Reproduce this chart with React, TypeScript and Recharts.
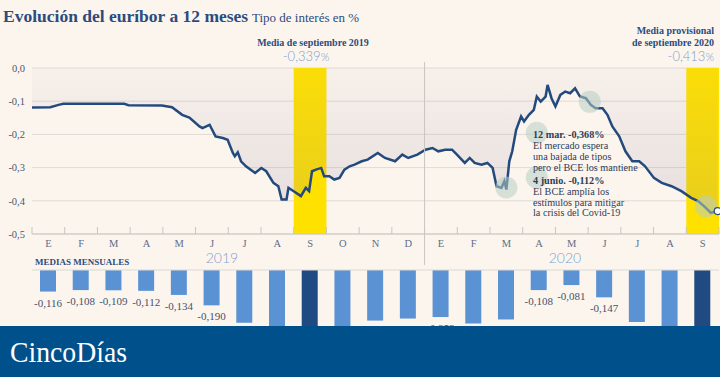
import React from 'react';
import {
  ComposedChart,
  Area,
  Bar,
  Cell,
  LabelList,
  XAxis,
  YAxis,
  CartesianGrid,
  ReferenceArea,
  ReferenceLine,
  ReferenceDot,
} from 'recharts';

// ---------- data ----------
const monthLetters = ['E', 'F', 'M', 'A', 'M', 'J', 'J', 'A', 'S', 'O', 'N', 'D', 'E', 'F', 'M', 'A', 'M', 'J', 'J', 'A', 'S'];
const monthlyAverages = [
  -0.116, -0.108, -0.109, -0.112, -0.134, -0.19, -0.283, -0.356, -0.339, -0.304, -0.272, -0.261,
  -0.253, -0.288, -0.266, -0.108, -0.081, -0.147, -0.279, -0.359, -0.413,
];
const highlightedMonths = [8, 20];
const yTicks = [0, -0.1, -0.2, -0.3, -0.4, -0.5];

// position in months since 1 Jan 2019, and the 12-month Euribor (%)
const dailyPos = [
  0.0, 0.56, 0.81, 0.96, 1.8, 2.82, 2.95, 3.97, 4.28, 4.59, 4.81, 5.12, 5.21, 5.43, 5.61, 5.83, 5.98,
  6.14, 6.2, 6.29, 6.39, 6.54, 6.82, 7.01, 7.16, 7.38, 7.53, 7.63, 7.78, 7.84, 8.0, 8.22, 8.37, 8.47,
  8.56, 8.68, 8.84, 8.93, 9.09, 9.24, 9.4, 9.55, 9.71, 9.86, 10.08, 10.26, 10.57, 10.79, 11.1, 11.32,
  11.5, 11.78, 12.03, 12.24, 12.42, 12.63, 12.84, 12.99, 13.23, 13.38, 13.53, 13.74, 13.92, 14.08,
  14.2, 14.35, 14.44, 14.5, 14.59, 14.68, 14.8, 14.95, 15.04, 15.19, 15.34, 15.43, 15.55, 15.7, 15.76,
  15.88, 16.0, 16.15, 16.3, 16.45, 16.6, 16.75, 16.93, 17.08, 17.23, 17.44, 17.59, 17.74, 17.95, 18.14,
  18.35, 18.56, 18.74, 19.01, 19.25, 19.55, 19.85, 20.15, 20.36, 20.54, 20.75, 20.96,
];
const dailyVal = [
  -0.119, -0.118, -0.111, -0.108, -0.108, -0.108, -0.112, -0.113, -0.118, -0.141, -0.149, -0.176, -0.181,
  -0.171, -0.206, -0.211, -0.216, -0.256, -0.266, -0.254, -0.281, -0.296, -0.316, -0.301, -0.311, -0.346,
  -0.356, -0.396, -0.396, -0.361, -0.371, -0.386, -0.361, -0.371, -0.311, -0.306, -0.301, -0.326, -0.326,
  -0.336, -0.331, -0.306, -0.296, -0.291, -0.281, -0.276, -0.256, -0.271, -0.281, -0.261, -0.271, -0.261,
  -0.246, -0.241, -0.251, -0.246, -0.246, -0.261, -0.286, -0.271, -0.286, -0.291, -0.286, -0.301, -0.356,
  -0.361, -0.341, -0.366, -0.281, -0.251, -0.186, -0.146, -0.161, -0.141, -0.126, -0.086, -0.101, -0.086,
  -0.051, -0.091, -0.116, -0.081, -0.071, -0.076, -0.061, -0.086, -0.091, -0.111, -0.121, -0.121, -0.141,
  -0.176, -0.206, -0.251, -0.281, -0.281, -0.296, -0.331, -0.346, -0.356, -0.371, -0.391, -0.401, -0.416,
  -0.436, -0.431,
];

const markerPos = [14.5, 15.43, 17.05, 15.43, 20.6];
const markerVal = [-0.36, -0.195, -0.102, -0.33, -0.417];

const lineData = dailyPos.map((m, i) => ({ m, v: dailyVal[i] }));
const barData = monthlyAverages.map((v, i) => ({ m: i + 0.5, v }));
const monthCenters = monthLetters.map((_, i) => i + 0.5);
const monthBounds = Array.from({ length: 22 }, (_, i) => i);

// ---------- style ----------
const SERIF = '"Liberation Serif", "Times New Roman", serif';
const SANS = 'Lato, "Open Sans", sans-serif';
const BG = '#fcf5ee';
const NAVY = '#2b4c7e';
const LINE = '#234a7d';
const YELLOW = '#ffe100';
const BAR = '#5b92d3';
const BAR_DARK = '#1f4a82';
const LIGHT_BLUE = '#7d9fcf';
const TEXT = '#2e3c58';

const fmt = (v: number) => v.toFixed(3).replace('.', ',');

const BarLabel = (props: any) => {
  const { x, y, width, height, value } = props;
  const bottom = Math.max(y, y + height);
  return (
    <text
      x={x + width / 2}
      y={bottom + 11}
      textAnchor="middle"
      dominantBaseline="central"
      fontFamily={SERIF}
      fontSize={11}
      fill="#44536e"
    >
      {fmt(value)}
    </text>
  );
};

export default function App() {
  const annotation = [
    { t: '12 mar. -0,368%', b: true },
    { t: 'El mercado espera', b: false },
    { t: 'una bajada de tipos', b: false },
    { t: 'pero el BCE los mantiene', b: false },
    { t: '4 junio. -0,112%', b: true },
    { t: 'El BCE amplía los', b: false },
    { t: 'estímulos para mitigar', b: false },
    { t: 'la crisis del Covid-19', b: false },
  ];
  const annY = [137.5, 148.5, 159.5, 170.5, 183.5, 194.5, 205.5, 215.5];

  return (
    <div
      style={{
        position: 'absolute',
        left: 0,
        top: 0,
        width: 720,
        height: 377,
        overflow: 'hidden',
        background: BG,
      }}
    >
      <div style={{ position: 'absolute', left: 0, top: 0 }}>
        <ComposedChart width={720} height={270} data={lineData} margin={{ top: 68, right: 1, left: 0, bottom: 22 }}>
          <defs>
            <linearGradient id="areaFill" x1="0" y1="0" x2="0" y2="1">
              <stop offset="0" stopColor="#8a7f99" stopOpacity={0.07} />
              <stop offset="1" stopColor="#8a7f99" stopOpacity={0.32} />
            </linearGradient>
          </defs>
          <CartesianGrid horizontal vertical={false} stroke="#e0dbd6" />
          <XAxis
            dataKey="m"
            type="number"
            domain={[0, 21]}
            ticks={monthCenters}
            interval={0}
            height={14}
            allowDataOverflow
            tickFormatter={(v: number) => monthLetters[Math.floor(v)]}
            axisLine={{ stroke: '#cbc6c1' }}
            tickLine={false}
            tickSize={0}
            tickMargin={6}
            tick={{ fontSize: 10.5, fill: '#5f6d88', fontFamily: SERIF }}
          />
          <YAxis
            type="number"
            domain={[-0.5, 0]}
            ticks={yTicks}
            interval={0}
            width={32}
            axisLine={false}
            tickLine={false}
            tickSize={0}
            tickMargin={7}
            tickFormatter={(v: number) => v.toFixed(1).replace('.', ',')}
            tick={{ fontSize: 10.5, fill: '#4a5670', fontFamily: SERIF }}
          />
          {highlightedMonths.map((i) => (
            <ReferenceArea
              key={'hl' + i}
              x1={i}
              x2={i + 1}
              y1={-0.5}
              y2={0}
              fill={YELLOW}
              fillOpacity={1}
              stroke="none"
              ifOverflow="hidden"
              zIndex={-50}
            />
          ))}
          <Area
            dataKey="v"
            type="linear"
            baseValue={0}
            fill="url(#areaFill)"
            stroke={LINE}
            strokeWidth={2.5}
            dot={false}
            activeDot={false}
            isAnimationActive={false}
          />
          {monthBounds.map((i) => (
            <ReferenceLine
              key={'tk' + i}
              segment={[
                { x: i, y: -0.5 },
                { x: i, y: -0.479 },
              ]}
              stroke="#c9c4bf"
              ifOverflow="visible"
            />
          ))}
          <ReferenceLine
            segment={[
              { x: 12, y: 0.018 },
              { x: 12, y: -0.593 },
            ]}
            stroke="#c9c4bf"
            ifOverflow="visible"
          />
          {markerPos.map((m, i) => (
            <ReferenceDot
              key={'mk' + i}
              x={m}
              y={markerVal[i]}
              r={11}
              fill="#b7cdc2"
              fillOpacity={0.55}
              stroke="none"
              ifOverflow="visible"
            />
          ))}
          <ReferenceDot
            x={dailyPos[dailyPos.length - 1]}
            y={dailyVal[dailyVal.length - 1]}
            r={3.5}
            fill="#ffffff"
            stroke={LINE}
            strokeWidth={1.2}
            ifOverflow="visible"
          />
        </ComposedChart>
      </div>

      <div style={{ position: 'absolute', left: 0, top: 250 }}>
        <ComposedChart width={720} height={127} data={barData} margin={{ top: 20, right: 1, left: 32, bottom: 14 }}>
          <XAxis dataKey="m" type="number" domain={[0, 21]} hide />
          <YAxis type="number" domain={[-0.5, 0]} hide />
          <ReferenceLine y={0} stroke="#dcd7d2" />
          <Bar dataKey="v" barSize={16} isAnimationActive={false}>
            {barData.map((d, i) => (
              <Cell key={'c' + i} fill={highlightedMonths.includes(i) ? BAR_DARK : BAR} />
            ))}
            <LabelList dataKey="v" content={BarLabel} />
          </Bar>
        </ComposedChart>
      </div>

      <svg
        width={720}
        height={377}
        style={{ position: 'absolute', left: 0, top: 0, pointerEvents: 'none' }}
      >
        <text x={3} y={22} fontFamily={SERIF} fontWeight="bold" fontSize={17.5} fill={NAVY}>
          Evolución del euríbor a 12 meses
        </text>
        <text x={252} y={22} fontFamily={SERIF} fontSize={13} fill={NAVY}>
          Tipo de interés en %
        </text>

        <text x={313} y={46} textAnchor="middle" fontFamily={SERIF} fontWeight="bold" fontSize={10} fill={NAVY}>
          Media de septiembre 2019
        </text>
        <text x={306} y={61} textAnchor="middle" fontFamily={SANS} fontWeight={300} fontSize={13} fill={LIGHT_BLUE}>
          -0,339<tspan fontSize={11}>%</tspan>
        </text>

        <text x={714} y={34} textAnchor="end" fontFamily={SERIF} fontWeight="bold" fontSize={10} fill={NAVY}>
          Media provisional
        </text>
        <text x={714} y={45.5} textAnchor="end" fontFamily={SERIF} fontWeight="bold" fontSize={10} fill={NAVY}>
          de septiembre 2020
        </text>
        <text x={714} y={61} textAnchor="end" fontFamily={SANS} fontWeight={300} fontSize={13} fill={LIGHT_BLUE}>
          -0,413<tspan fontSize={11}>%</tspan>
        </text>

        {annotation.map((a, i) => (
          <text
            key={'an' + i}
            x={533}
            y={annY[i]}
            fontFamily={SERIF}
            fontWeight={a.b ? 'bold' : 'normal'}
            fontSize={10.2}
            fill={TEXT}
          >
            {a.t}
          </text>
        ))}

        <text x={35} y={265} fontFamily={SERIF} fontWeight="bold" fontSize={9} fill={NAVY}>
          MEDIAS MENSUALES
        </text>
        <text x={222} y={263} textAnchor="middle" fontFamily={SANS} fontWeight={300} fontSize={14} fill={LIGHT_BLUE}>
          2019
        </text>
        <text x={565} y={263} textAnchor="middle" fontFamily={SANS} fontWeight={300} fontSize={14} fill={LIGHT_BLUE}>
          2020
        </text>

        <rect x={0} y={326} width={720} height={51} fill="#00508b" />
        <text
          x={10}
          y={362}
          fontFamily={SERIF}
          fontSize={30}
          fill="#ffffff"
          textLength={117}
          lengthAdjust="spacingAndGlyphs"
        >
          CincoDías
        </text>
      </svg>
    </div>
  );
}
